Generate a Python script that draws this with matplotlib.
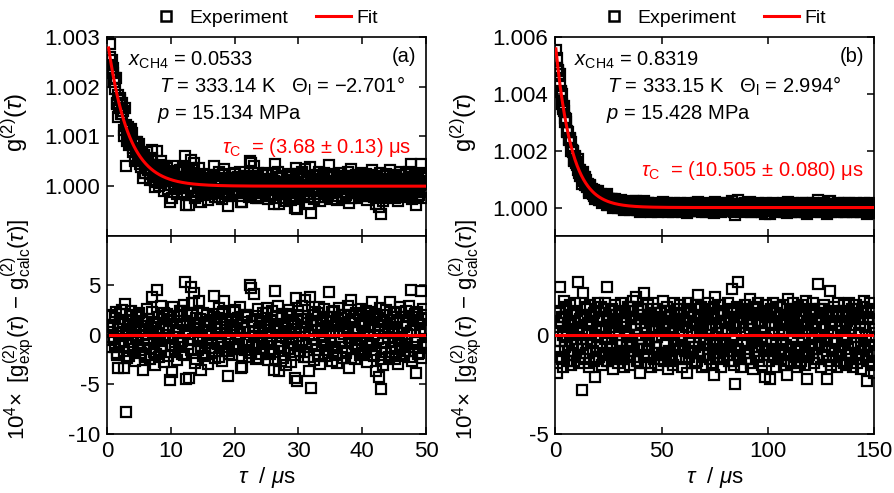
import numpy as np
import matplotlib
matplotlib.use("Agg")
import matplotlib.pyplot as plt
from matplotlib.lines import Line2D

plt.rcParams['font.family'] = ['Liberation Sans', 'DejaVu Sans']
plt.rcParams['mathtext.fontset'] = 'custom'
plt.rcParams['mathtext.rm'] = 'Liberation Sans'
plt.rcParams['mathtext.it'] = 'Liberation Sans:italic'
plt.rcParams['mathtext.bf'] = 'Liberation Sans:bold'
plt.rcParams['axes.unicode_minus'] = False

# lag time grids (start, stop) in microseconds, two interleaved sets of points
t_range_a = (0.4, 50.0)
t_range_a2 = (0.5, 50.1)
t_range_b = (0.5, 150.0)
t_range_b2 = (0.75, 150.25)

# fit curves: g2 = 1 + amp * exp(-t / decay)
amp_a, decay_a, fit_start_a = 0.0030, 3.2, 0.25
amp_b, decay_b, fit_start_b = 0.0058, 7.5, 0.3

# residuals 10^4 x (g_exp - g_calc)
resid_a = [
    2.0, -0.5, 1.9, 0.8, -1.2, 2.3, -1.8, -3.3, 1.2, -0.7, 2.5, -3.3, 3.1, -7.8, 0.6, -2.1, 1.5, 2.4, -1.0, 0.3,
    -2.6, 1.8, -0.4, 2.2, -1.5, 0.9, -3.5, 1.3, -2.0, 2.6, -0.9, 0.4, -2.4, 3.8, 1.1, -1.7, -3.0, 4.5, 0.2, -2.2,
    2.9, -1.1, 1.6, -2.7, 0.7, 2.1, -0.3, -4.5, 1.4, -3.7, 2.8, -1.4, 0.5, -2.5, 1.9, -0.8, 2.4, -1.9, 3.0, 5.4,
    -4.4, 2.2, -4.3, 0.9, 4.8, 3.2, 4.2, -2.8, 1.7, -1.5, 3.4, -0.6, -3.5, -2.1, 1.0, -1.3, 2.0, -2.9, 0.4, 1.5,
    -1.8, 2.1, 3.9, -2.3, 0.8, -0.9, 2.7, 1.2, -2.6, 2.3, 3.4, 0.1, -1.6, -4.1, -0.4, 1.6, -2.0, 0.6, 2.5, -1.2,
    1.3, -1.4, 2.8, -3.3, -3.2, 0.7, 2.0, -0.6, 1.8, -2.2, 5.1, 4.7, -1.0, 4.1, 0.3, -2.4, 2.6, -0.8, 1.4, -1.9,
    2.2, -1.3, 0.9, 2.7, -2.5, 1.1, -0.5, 2.4, -1.7, -3.5, 4.4, 0.6, 2.9, -3.6, -1.1, 1.7, -2.3, 0.2, -3.0, 2.1,
    -1.4, 2.5, -2.7, 1.3, -0.2, -4.3, 3.7, -4.6, 2.0, -1.6, 0.8, 2.9, -2.2, 3.5, -0.9, 1.6, -3.6, 3.8, -5.4, 1.0,
    -2.5, 2.3, -1.0, 0.5, 2.8, -2.9, 1.4, -0.7, 2.6, -2.1, 0.9, -1.5, 4.3, 1.8, -2.6, 0.3, 2.4, -1.2, -2.8, 1.5,
    2.7, -0.6, 1.2, -2.3, 2.0, -1.8, 0.7, 2.9, -3.3, 3.5, -0.3, 1.6, -2.4, 2.2, -1.1, 0.4, -2.0, 2.6, -0.8, 1.9,
    -1.5, 2.4, -2.7, 0.8, 1.7, -0.9, 3.3, -2.1, 2.1, -3.6, 1.0, -4.2, 2.7, -5.5, -3.0, 1.4, -1.3, 2.5, 0.2, -2.2,
    3.3, -1.7, 0.6, 2.2, -2.4, 1.5, -2.9, -0.4, 2.8, -1.0, 1.2, -2.0, 2.4, 0.1, -1.6, 2.9, 4.5, -2.6, 1.8, -0.7,
    -3.8, 2.3, -1.9, 1.1, 4.4, -2.3, 2.6, 0.5, -1.2,
]
resid_a2 = [
    0.3, -1.2, 1.0, -0.4, 1.7, -2.0, 0.6, -0.9, 2.1, -0.1, 1.3, -1.6, 0.2, -2.3, 1.1, 0.5, -0.7, 1.9, -1.4, 0.8,
    -0.2, 2.0, -1.1, 0.4, -1.8, 1.4, 0.0, -2.2, 0.9, -0.5, 1.6, -1.3, 0.7, 2.3, -0.8, 1.2, -1.9, 0.1, 1.8, -0.6,
    -1.5, 0.6, 2.2, -0.3, 1.0, -2.1, 0.4, 1.5, -1.0, -0.2, 1.9, -1.7, 0.8, 0.2, -1.2, 2.4, -0.6, 1.1, -2.0, 0.3,
    1.4, -0.9, 0.5, -1.5, 2.0, -0.4, 1.2, -2.4, 0.7, -0.1, 1.6, -1.1, 0.3, 2.2, -1.8, 0.9, -0.5, 1.3, -1.3, 0.0,
    -0.8, 1.8, -1.6, 0.6, 1.1, -2.2, 0.2, -0.7, 2.1, -1.2, 0.8, 1.5, -0.3, -1.9, 1.0, 0.4, -1.4, 2.3, -0.9, 0.5,
    1.7, -1.0, 0.1, -2.1, 1.3, 0.7, -1.5, 2.0, -0.6, 0.3, -1.8, 1.4, 0.9, -0.2, -1.1, 1.9, -2.3, 0.6, 1.2, -0.4,
    -1.3, 0.8, 2.2, -0.7, 0.2, -1.9, 1.5, -0.1, 1.0, -2.4, 0.5, 1.8, -1.2, 0.4, -0.6, 2.1, -1.6, 0.9, -0.3, 1.3,
    0.1, -1.4, 1.9, -0.8, 1.1, -2.0, 0.6, 2.4, -1.1, 0.3, -0.5, 1.6, -1.7, 0.8, 1.2, -2.2, 0.0, 1.4, -0.9, 2.0,
    -0.4, 1.0, -1.5, 2.2, -2.1, 0.7, -0.2, 1.5, -1.0, 0.4, 1.8, -1.8, 0.2, -0.7, 2.3, -1.3, 0.9, 1.1, -2.0, 0.5,
    -0.6, 1.7, -1.2, 0.1, 2.0, -1.6, 0.8, -0.3, 1.3, -2.3, 0.6, 1.5, -0.9, 0.3, -1.4, 2.1, -0.5, 1.0, -1.9, 0.4,
    1.2, -0.7, 2.2, -1.1, 0.5, -2.0, 1.6, 0.0, -1.5, 1.9, -0.4, 0.9, -2.4, 1.3, -0.8, 0.6, -1.7, 2.0, -0.2, 1.1,
    -1.3, 0.7, 1.8, -0.6, -2.1, 1.4, 0.2, -1.0, 2.3, -0.3, 0.8, -1.6, 1.2, -0.9, 1.9, -2.2, 0.4, 1.0, -1.2, 2.1,
    -0.5, 1.5, -1.8, 0.3, 1.7, -1.0, 0.6, 2.0, -0.8,
]

resid_b = [
    1.2, -1.9, 0.4, 2.4, -1.1, 0.9, -1.6, 1.7, -0.3, 1.4, -1.3, 0.6, -0.8, 1.5, -1.5, 0.2, 1.1, -1.0, 1.6, -0.5,
    2.7, -1.4, 0.8, -0.2, -2.8, 2.1, 1.0, -1.2, 1.3, -0.7, 0.5, -1.6, 1.5, -0.4, 0.9, -1.3, -2.1, 1.2, -0.6, 1.6,
    -1.1, 0.3, 1.4, -1.5, 0.7, -0.9, 1.6, -0.1, 2.4, -1.3, 1.0, -0.6, 1.3, -1.7, 0.4, 1.5, -1.0, 0.8, -1.4, 1.2,
    -0.3, 1.6, -1.2, 0.6, -1.6, 1.1, 0.0, -0.8, 1.4, -1.5, 0.9, -0.4, 1.7, -1.1, 0.5, 1.9, -1.3, 1.2, -0.7, -1.9,
    1.3, -0.2, 2.1, -1.4, 0.8, -1.0, 1.5, -0.5, 1.0, -1.6, 0.3, 1.6, -1.2, 0.7, -0.6, 1.3, -1.5, 0.2, 1.1, -0.9,
    1.7, -1.3, 0.5, -0.4, 1.4, -1.7, 0.9, 1.2, -1.0, 0.1, -1.5, 1.6, -0.7, 0.6, 1.0, -1.2, 1.5, -0.3, -1.6, 0.8,
    1.3, -0.8, 0.4, -1.9, 1.6, -1.1, 0.7, 1.1, -1.4, 0.2, -0.6, 1.5, -1.3, 2.0, -0.9, 0.9, 1.4, -1.6, 0.5, -0.2,
    1.2, -1.5, 0.8, 1.6, -1.0, -0.4, 1.3, -1.4, -2.0, 1.9, 0.6, -1.1, 1.0, -0.7, 1.5, -1.6, 0.3, 1.1, -1.2, 0.7,
    -0.5, 1.6, -1.3, 0.9, -0.8, 2.3, 1.2, -1.5, -2.5, 0.4, 1.4, 2.7, -1.0, 0.6, -1.6, 1.3, -0.3, 1.5, -1.2, 0.8,
    -0.9, 1.1, 1.8, -1.4, 0.5, -1.7, 1.4, -0.2, 1.0, -1.1, 1.6, -0.6, 0.7, -1.5, 1.2, 0.1, -2.1, 1.5, -0.8, 0.9,
    -1.3, -2.2, 1.3, -0.4, 1.6, -1.0, 0.6, -1.6, 1.1, -0.7, 1.4, -1.2, 0.2, 1.5, -1.5, 0.8, -0.5, -2.0, 1.8, -0.9,
    1.2, -1.4, 0.7, 1.6, -1.1, 0.3, -1.6, 1.4, -0.6, 1.0, -1.3, 1.5, -0.2, 0.9, -1.5, 1.7, -2.2, 0.6, -1.0, 1.3,
    -0.7, 1.6, -1.4, 0.4, 1.1, -1.2, 2.6, -0.5, 1.3, -1.6, 0.8, -1.0, 1.5, -0.3, 0.9, -2.2, 1.2, 2.2, -1.5, 0.6,
    -1.1, 1.4, -0.4, 1.0, -1.6, 1.6, -0.8, 0.5, -1.3, 1.2, -0.1, 1.5, -1.5, 0.7, -0.9, 1.6, -1.2, 0.3, 1.3, -1.6,
    0.9, -0.6, 1.5, -1.4, 1.1, -1.0, 0.6, -1.7, 1.4, 1.7, -0.5, 1.2, -2.3, 0.8, -1.3, 1.6, -0.8, 1.3, -1.5, -1.9,
]
resid_b2 = [
    0.2, -0.8, 1.1, -0.3, 0.6, -1.2, 0.0, 0.9, -0.6, 1.3, -0.1, -1.0, 0.5, 1.0, -0.4, 0.3, -1.3, 0.7, -0.2, 1.2,
    -0.7, 0.4, -1.1, 0.8, 0.1, -0.5, 1.4, -0.9, 0.2, 0.6, -1.4, 1.0, -0.3, 0.5, -0.8, 1.1, 0.0, -1.2, 0.7, -0.1,
    0.9, -0.6, 0.3, -1.0, 1.3, -0.2, 0.4, -1.3, 0.8, 0.1, -0.7, 1.2, -0.4, 0.6, -1.1, 0.2, 1.0, -0.5, 0.0, -0.9,
    1.1, -0.3, 0.7, -1.2, 0.2, 0.9, -0.6, 1.4, -0.1, -1.0, 0.5, -0.4, 1.2, -0.8, 0.3, 0.0, -1.3, 0.8, -0.2, 0.6,
    -0.5, 1.0, -1.1, 0.4, 0.1, -0.7, 1.3, -0.3, 0.7, -1.4, 0.2, 0.9, -0.6, 1.1, -0.1, -0.9, 0.5, -1.2, 0.8, 0.0,
    0.3, -1.0, 1.2, -0.4, 0.6, -0.8, 0.1, 1.0, -1.3, 0.4, -0.2, 0.8, -1.1, 1.3, -0.5, 0.2, -0.7, 1.1, 0.0, -0.6,
    0.7, -1.2, 0.4, 0.9, -0.3, 1.2, -0.9, 0.1, -0.6, 1.0, -1.4, 0.5, 0.2, -0.8, 1.3, -0.1, 0.6, -1.0, 0.8, -0.4,
    -0.2, 1.1, -0.7, 0.3, -1.2, 0.9, 0.0, -0.5, 1.4, -0.9, 0.4, -0.3, 1.0, -1.1, 0.6, 0.1, -0.8, 1.2, -0.4, 0.7,
    -1.0, 0.2, 0.8, -0.6, 1.3, -0.2, -1.3, 0.5, 0.0, 1.1, -0.7, 0.4, -1.1, 0.9, -0.3, 0.6, 1.2, -0.9, 0.1, -0.5,
    0.8, -1.2, 0.3, 1.0, -0.4, 0.0, -0.8, 1.3, -0.1, 0.6, -1.3, 0.7, 0.2, -0.6, 1.1, -1.0, 0.4, -0.2, 0.9, -0.7,
    1.2, -0.3, 0.5, -1.1, 0.1, 0.9, -0.5, 1.4, -1.2, 0.3, -0.8, 0.7, 0.0, -0.4, 1.0, -0.9, 0.6, -1.3, 0.2, 0.8,
    -0.6, 1.1, -0.2, 0.4, -1.0, 1.3, -0.7, 0.1, 0.9, -1.4, 0.5, -0.3, 1.2, -0.8, 0.2, 0.7, -1.1, 0.0, 1.0, -0.5,
    0.3, -0.9, 1.2, -0.1, 0.6, -1.2, 0.8, -0.4, 0.0, 1.3, -1.0, 0.4, -0.6, 1.1, -0.2, 0.9, -1.3, 0.5, 0.1, -0.7,
    1.0, -0.3, 0.7, -1.1, 0.2, 1.2, -0.8, 0.4, -0.5, 0.9, -1.4, 0.0, 0.6, -0.2, 1.1, -0.9, 0.3, -1.0, 0.8, -0.4,
    0.5, -1.2, 1.3, -0.6, 0.1, 0.8, -0.3, -1.0, 1.1, -0.7, 0.4, 0.0, -1.1, 0.9, -0.5, 1.2, -0.1, 0.6, -0.9, 0.3,
]

info_a = [r'$x_{\mathrm{CH4}}$ = 0.0533',
          r'$T$ = 333.14 K   $\Theta_{\mathrm{l}}$ = $-$2.701°',
          r'$p$ = 15.134 MPa',
          r'$\tau_{\mathrm{C}}$  = (3.68 ± 0.13) μs', '(a)']
info_b = [r'$x_{\mathrm{CH4}}$ = 0.8319',
          r'$T$ = 333.15 K   $\Theta_{\mathrm{l}}$ = 2.994°',
          r'$p$ = 15.428 MPa',
          r'$\tau_{\mathrm{C}}$  = (10.505 ± 0.080) μs', '(b)']

RED = '#ff0000'


def fit_curve(t, amp, decay):
    return 1.0 + amp * np.exp(-t / decay)


def style_axis(ax):
    ax.tick_params(direction='in', top=True, right=True, length=5, width=1.1,
                   labelsize=16, pad=5, colors='black')
    for s in ax.spines.values():
        s.set_linewidth(1.2)


def draw_panel(fig, left, ranges, resids, amp, decay, fit_start, info, info_x,
               top_lim, top_ticks, bot_lim, bot_ticks, x_ticks, tau_pos):
    width = 0.3568
    ax_top = fig.add_axes([left, 0.5213, width, 0.4043])
    ax_bot = fig.add_axes([left, 0.1197, width, 0.4016])

    mk = dict(marker='s', ms=7, mfc='none', mec='black', mew=1.6, ls='none')
    for (t0, t1), resid in zip(ranges, resids):
        res = np.array(resid)
        t = np.linspace(t0, t1, len(res))
        ax_top.plot(t, fit_curve(t, amp, decay) + res * 1e-4, **mk)
        ax_bot.plot(t, res, **mk)

    t_end = ranges[0][1]
    t_fit = np.linspace(fit_start, t_end, 600)
    ax_top.plot(t_fit, fit_curve(t_fit, amp, decay), color=RED, lw=2.2, zorder=5)
    ax_bot.plot([ranges[0][0], t_end], [0, 0], color=RED, lw=2.2, zorder=5)

    for ax in (ax_top, ax_bot):
        ax.set_xlim(0, x_ticks[-1])
        ax.set_xticks(x_ticks)
        style_axis(ax)
    ax_top.set_xticklabels([])
    ax_top.set_ylim(*top_lim)
    ax_top.set_yticks(top_ticks)
    ax_top.set_yticklabels(['%.3f' % v for v in top_ticks])
    ax_bot.set_ylim(*bot_lim)
    ax_bot.set_yticks(bot_ticks)

    ax_top.set_ylabel(r'$\mathrm{g}^{(2)}(\tau)$', fontsize=17)
    ax_top.yaxis.set_label_coords(-0.24, 0.57)
    ax_bot.set_ylabel(r'$10^4\!\times$ [$\mathrm{g}^{(2)}_{\mathrm{exp}}(\tau)$ $-$ $\mathrm{g}^{(2)}_{\mathrm{calc}}(\tau)$]',
                      fontsize=16)
    ax_bot.yaxis.set_label_coords(-0.222, 0.53)
    ax_bot.set_xlabel(r'$\tau$  / $\mu$s', fontsize=16, labelpad=2)

    fs = 14.5
    ax_top.text(info_x, 0.856, info[0], transform=ax_top.transAxes, fontsize=fs, va='baseline')
    ax_top.text(0.162, 0.719, info[1], transform=ax_top.transAxes, fontsize=fs, va='baseline')
    ax_top.text(0.158, 0.585, info[2], transform=ax_top.transAxes, fontsize=fs, va='baseline')
    ax_top.text(tau_pos[0], tau_pos[1], info[3], transform=ax_top.transAxes, fontsize=fs,
                va='baseline', color=RED)
    ax_top.text(0.97, 0.874, info[4], transform=ax_top.transAxes, fontsize=fs, va='baseline', ha='right')

    handles = [Line2D([], [], marker='s', ms=7, mfc='none', mec='black', mew=1.8, ls='none'),
               Line2D([], [], color=RED, lw=2.2)]
    ax_top.legend(handles, ['Experiment', 'Fit'], ncol=2, loc='center', bbox_to_anchor=(0.49, 1.092),
                  frameon=False, fontsize=14, handlelength=1.8, handletextpad=0.3,
                  columnspacing=1.4, borderaxespad=0)


fig = plt.figure(figsize=(8.94, 4.93), dpi=100)
draw_panel(fig, 0.1197, [t_range_a, t_range_a2], [resid_a, resid_a2], amp_a, decay_a, fit_start_a,
           info_a, 0.066, (0.999, 1.003), [1.000, 1.001, 1.002, 1.003], (-10, 10), [-10, -5, 0, 5],
           [0, 10, 20, 30, 40, 50], (0.36, 0.417))
draw_panel(fig, 0.6211, [t_range_b, t_range_b2], [resid_b, resid_b2], amp_b, decay_b, fit_start_b,
           info_b, 0.059, (0.999, 1.006), [1.000, 1.002, 1.004, 1.006], (-5, 5), [-5, 0],
           [0, 50, 100, 150], (0.268, 0.303))
fig.savefig('out.png', dpi=100)
